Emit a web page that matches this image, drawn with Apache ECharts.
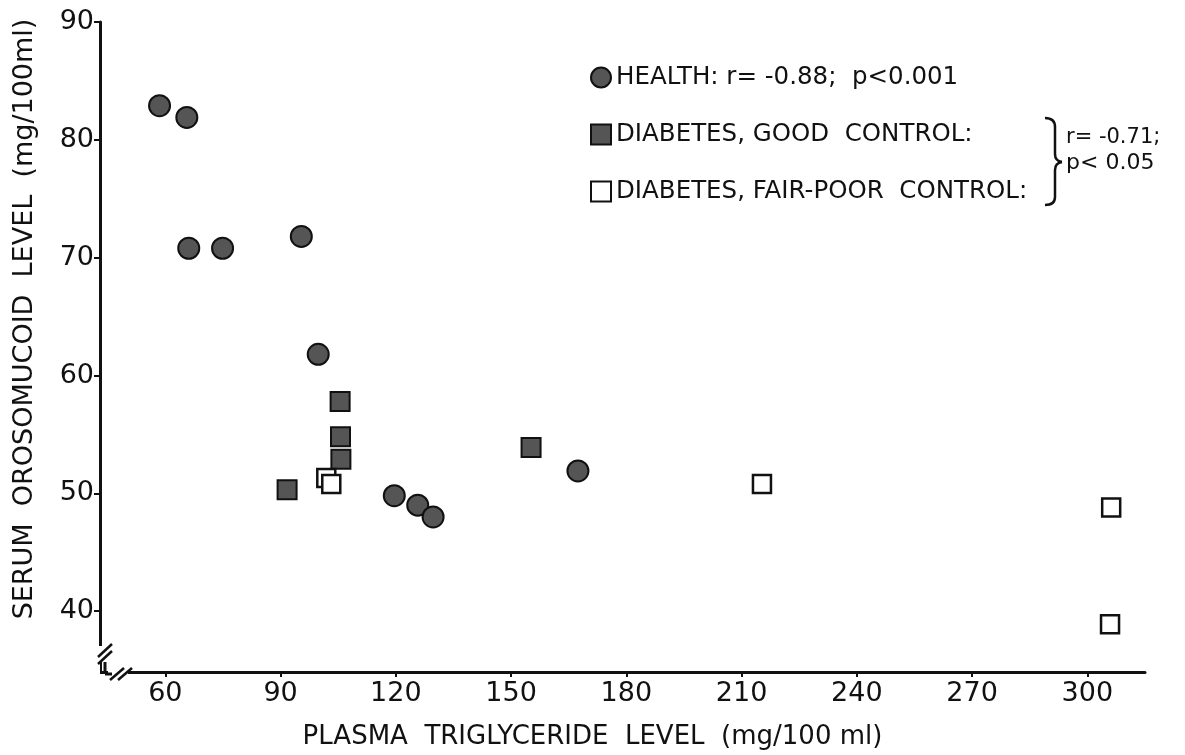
<!DOCTYPE html>
<html>
<head>
<meta charset="utf-8">
<script src="https://cdn.jsdelivr.net/npm/echarts@6/dist/echarts.min.js"></script>
<style>
html,body{margin:0;padding:0;background:#fff;}
#chart{width:1185px;height:755px;}
</style>
</head>
<body>
<div id="chart"></div>
<script>
// ---- data ----
const xTicks = [60, 90, 120, 150, 180, 210, 240, 270, 300];
const yTicks = [40, 50, 60, 70, 80, 90];

const healthX = [58.5, 65.6, 66.1, 74.9, 95.4, 99.8, 119.6, 125.7, 129.7, 167.4];
const healthY = [82.9, 81.9, 70.8, 70.8, 71.8, 61.8, 49.8, 49.0, 48.0, 51.9];

const goodX = [91.7, 105.5, 105.6, 105.7, 155.2];
const goodY = [50.3, 57.8, 54.8, 52.9, 53.9];

const poorX = [101.9, 103.2, 215.3, 306.2, 305.9];
const poorY = [51.3, 50.8, 50.8, 48.8, 38.9];

const seriesNames = [
  'HEALTH: r= -0.88;  p<0.001',
  'DIABETES, GOOD  CONTROL:',
  'DIABETES, FAIR-POOR  CONTROL:'
];
const groupStat = ['r= -0.71;', 'p< 0.05'];
const xTitle = 'PLASMA  TRIGLYCERIDE  LEVEL  (mg/100 ml)';
const yTitle = 'SERUM  OROSOMUCOID  LEVEL  (mg/100ml)';

const zip = (xs, ys) => xs.map((x, i) => [x, ys[i]]);

// ---- chart ----
const FONT = 'DejaVu Sans';
const INK = '#111';
const chart = echarts.init(document.getElementById('chart'), null, {renderer: 'canvas'});

const gridL = 100, gridR = 40, gridT = 22, gridB = 81;
const W = 1185, H = 755;
const axisX0 = gridL, axisY0 = H - gridB;

const ln = (x1, y1, x2, y2, w) => ({type: 'line', shape: {x1, y1, x2, y2}, style: {stroke: INK, lineWidth: w || 2.5}, z: 101});
const qc = (x1, y1, cx, cy, x2, y2) => ({type: 'bezierCurve', shape: {x1, y1, cpx1: cx, cpy1: cy, x2, y2}, style: {stroke: INK, lineWidth: 2.5, fill: 'none'}, z: 101});

chart.setOption({
  animation: false,
  backgroundColor: '#fff',
  textStyle: {fontFamily: FONT, color: INK},
  grid: {left: gridL, right: gridR, top: gridT, bottom: gridB, containLabel: false},
  legend: {
    orient: 'vertical',
    left: 590,
    top: 65,
    padding: 0,
    itemWidth: 20,
    itemHeight: 20,
    itemGap: 32,
    textStyle: {fontFamily: FONT, fontSize: 24.5, color: INK},
    data: seriesNames
  },
  xAxis: {
    type: 'value',
    min: 43,
    max: 315,
    name: xTitle,
    nameLocation: 'middle',
    nameGap: 52,
    nameTextStyle: {fontFamily: FONT, fontSize: 26, color: INK, padding: [0, 60, 0, 0]},
    axisLine: {show: true, onZero: false, lineStyle: {color: INK, width: 3}},
    axisTick: {show: true, customValues: xTicks, length: 5, lineStyle: {color: INK, width: 2}},
    axisLabel: {customValues: xTicks, fontFamily: FONT, fontSize: 27, color: INK, margin: 8},
    splitLine: {show: false}
  },
  yAxis: {
    type: 'value',
    min: 34.84,
    max: 90,
    name: yTitle,
    nameLocation: 'middle',
    nameGap: 62,
    nameTextStyle: {fontFamily: FONT, fontSize: 27, color: INK, padding: [0, 0, 0, 56]},
    axisLine: {show: true, onZero: false, lineStyle: {color: INK, width: 3}},
    axisTick: {show: true, customValues: yTicks, length: 6, lineStyle: {color: INK, width: 2}},
    axisLabel: {customValues: yTicks, fontFamily: FONT, fontSize: 27, color: INK, margin: 6},
    splitLine: {show: false}
  },
  series: [
    {
      name: seriesNames[0],
      type: 'scatter',
      symbol: 'circle',
      symbolSize: 21,
      itemStyle: {color: '#555', borderColor: INK, borderWidth: 2, opacity: 1},
      data: zip(healthX, healthY)
    },
    {
      name: seriesNames[1],
      type: 'scatter',
      symbol: 'rect',
      symbolSize: 19,
      itemStyle: {color: '#555', borderColor: INK, borderWidth: 2, opacity: 1},
      data: zip(goodX, goodY)
    },
    {
      name: seriesNames[2],
      type: 'scatter',
      symbol: 'rect',
      symbolSize: 18,
      itemStyle: {color: '#fff', borderColor: INK, borderWidth: 2.5, opacity: 1},
      data: zip(poorX, poorY)
    }
  ],
  graphic: [
    // axis-break decorations
    {type: 'rect', shape: {x: axisX0 - 4, y: axisY0 - 28, width: 8, height: 16}, style: {fill: '#fff'}, z: 100},
    {type: 'rect', shape: {x: axisX0 + 8, y: axisY0 - 4, width: 20, height: 8}, style: {fill: '#fff'}, z: 100},
    {type: 'rect', shape: {x: axisX0 - 4, y: axisY0 - 10, width: 4, height: 14}, style: {fill: '#fff'}, z: 100},
    ln(axisX0 + 5, axisY0 - 12, axisX0 + 5, axisY0, 3),
    ln(axisX0 + 5, axisY0, axisX0 + 12, axisY0, 3),
    ln(axisX0 - 2, axisY0 - 17, axisX0 + 12, axisY0 - 30),
    ln(axisX0 - 2, axisY0 - 10, axisX0 + 12, axisY0 - 23),
    ln(axisX0 + 10, axisY0 + 6, axisX0 + 24, axisY0 - 6),
    ln(axisX0 + 18, axisY0 + 6, axisX0 + 32, axisY0 - 6),
    // bracket grouping the two diabetes series
    qc(1045, 118, 1055, 118, 1055, 127),
    ln(1055, 127, 1055, 154),
    qc(1055, 154, 1055, 161, 1062, 162),
    qc(1062, 162, 1055, 163, 1055, 170),
    ln(1055, 170, 1055, 197),
    qc(1055, 197, 1055, 205, 1045, 205),
    {type: 'text', left: 1066, top: 127, style: {text: groupStat[0], font: '21px "' + FONT + '"', fill: INK}},
    {type: 'text', left: 1066, top: 152, style: {text: groupStat[1], font: '22px "' + FONT + '"', fill: INK}}
  ]
});
</script>
</body>
</html>
